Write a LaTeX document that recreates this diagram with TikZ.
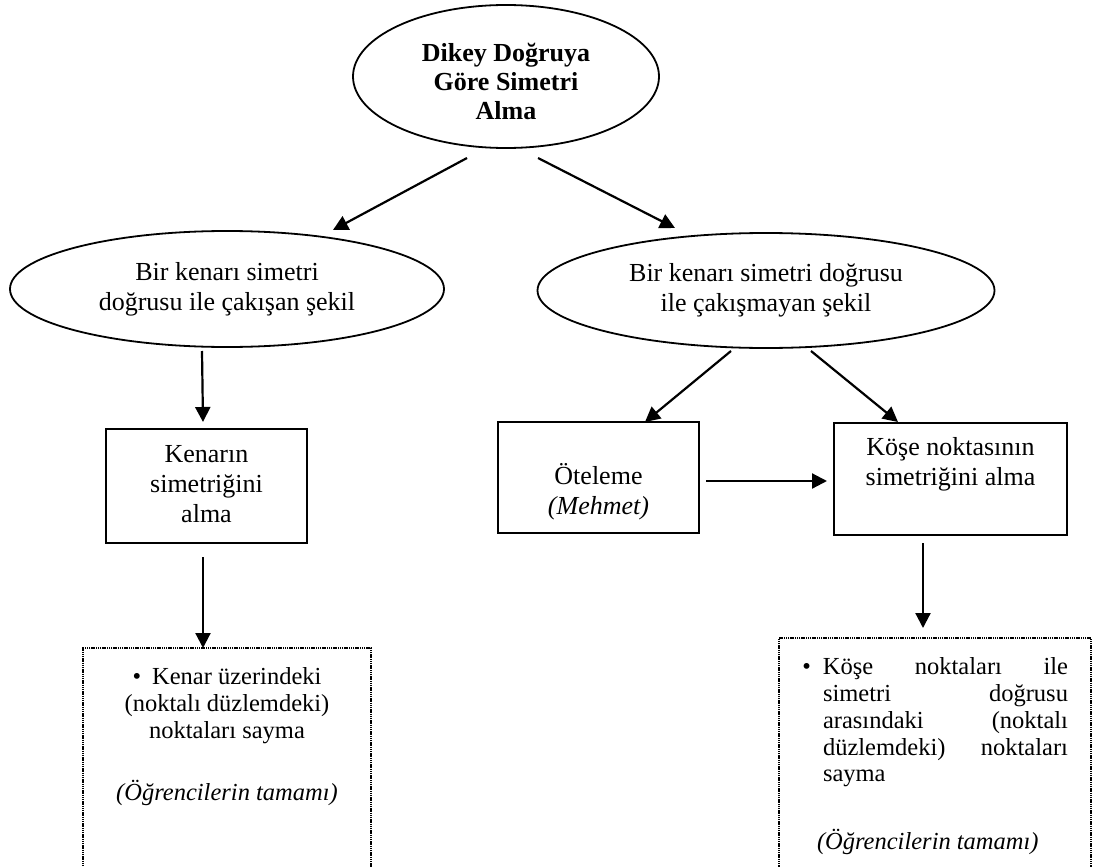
\documentclass[tikz,border=0pt]{standalone}
\usepackage{fontspec}
\setmainfont{Liberation Serif}
\usetikzlibrary{arrows.meta,shapes.geometric}
\begin{document}
\begin{tikzpicture}[x=1pt,y=-1pt,
  every node/.style={inner sep=0pt, outer sep=0pt},
  oval/.style={draw, ellipse, line width=1.8pt, align=center,
    font=\fontsize{26}{30}\selectfont},
  stage/.style={draw, rectangle, line width=2.2pt, align=center,
    font=\fontsize{26}{30}\selectfont},
  notebox/.style={draw, rectangle, line width=2pt, dash pattern=on 1.4pt off 0.8pt},
  notetext/.style={font=\fontsize{24.5}{26.7}\selectfont},
  flow/.style={line width=2.2pt, -{Triangle[length=15pt,width=15pt]}},
]
\clip (0,0) rectangle (1093,867);
\fill[white] (0,0) rectangle (1093,867);

% main concept
\node[oval, minimum width=306pt, minimum height=143pt,
  label={[align=center, font=\bfseries\fontsize{26}{29}\selectfont, yshift=-8pt]center:%
    {\strut Dikey Doğruya\\\strut Göre Simetri\\\strut Alma}}] (goal) at (506,76.5) {};

% the two cases
\node[oval, minimum width=434pt, minimum height=116pt] (touch) at (227,289)
  {\strut Bir kenarı simetri\\\strut doğrusu ile çakışan şekil};
\node[oval, minimum width=457pt, minimum height=115pt] (apart) at (766,290.5)
  {\strut Bir kenarı simetri doğrusu\\\strut ile çakışmayan şekil};

% strategies
\node[stage, minimum width=201pt, minimum height=114pt] (sidebox) at (206.5,486)
  {\strut Kenarın\\\strut simetriğini\\\strut alma};
\node[stage, minimum width=201pt, minimum height=111pt] (slidebox) at (598.5,477.5)
  {\strut\\\strut Öteleme\\\strut\textit{(Mehmet)}};
\node[stage, minimum width=233pt, minimum height=112pt] (cornerbox) at (950.5,479)
  {\strut Köşe noktasının\\\strut simetriğini alma\\\strut};

% notes (run past the lower edge)
\node[notebox, minimum width=288pt, minimum height=252pt] (sidenote) at (227,774) {};
\node[notebox, minimum width=312pt, minimum height=262pt] (cornernote) at (935,769) {};

\node[notetext, align=center, anchor=north] (sidenotetext) at (227,666.3)
  {\strut\textbullet\hspace{11pt}Kenar üzerindeki\\(noktalı düzlemdeki)\\noktaları sayma\\[35.3pt]\textit{(Öğrencilerin tamamı)}};

\node[notetext, align=left, anchor=north west] (cornernotetext) at (823,656.3)
  {\hbox to 245pt{\strut\llap{\textbullet\hspace{12pt}}Köşe\hfill noktaları\hfill ile}\\
   \hbox to 245pt{simetri\hfill doğrusu}\\
   \hbox to 245pt{arasındaki\hfill (noktalı}\\
   \hbox to 245pt{düzlemdeki)\hfill noktaları}\\
   sayma\\[41pt]
   \hbox to 245pt{\hspace{-6pt}\textit{(Öğrencilerin tamamı)}\hfill}};

% connectors
\draw[flow] ([xshift=-39pt,yshift=-10pt]goal.south) -- ([xshift=106pt,yshift=1pt]touch.north);
\draw[flow] ([xshift=32pt,yshift=-10pt]goal.south) -- ([xshift=-91pt,yshift=5pt]apart.north);
\draw[flow] ([xshift=-25pt,yshift=-4pt]touch.south) -- ([xshift=-3.5pt,yshift=7pt]sidebox.north);
\draw[flow] ([xshift=-3.5pt,yshift=-14pt]sidebox.south) -- ([xshift=-24pt]sidenote.north);
\draw[flow] ([xshift=-35pt,yshift=-3pt]apart.south) -- ([xshift=46.5pt]slidebox.north);
\draw[flow] ([xshift=45pt,yshift=-3pt]apart.south) -- ([xshift=-52.5pt,yshift=1pt]cornerbox.north);
\draw[flow] ([xshift=7pt,yshift=-3.5pt]slidebox.east) -- ([xshift=-7pt,yshift=-2pt]cornerbox.west);
\draw[flow] ([xshift=-27.5pt,yshift=-8pt]cornerbox.south) -- ([xshift=-12pt,yshift=10pt]cornernote.north);
\end{tikzpicture}
\end{document}
